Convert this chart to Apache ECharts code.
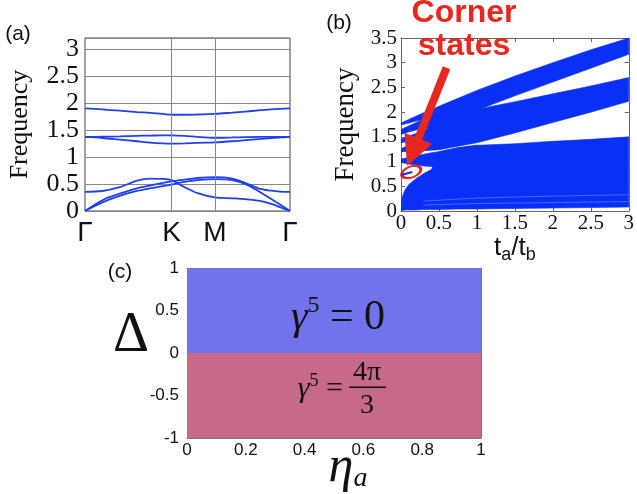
<!DOCTYPE html>
<html><head><meta charset="utf-8">
<script src="https://cdn.jsdelivr.net/npm/echarts@6/dist/echarts.min.js"></script>
<style>html,body{margin:0;padding:0;background:#fff}#c{width:637px;height:494px}</style>
</head><body><div id="c"></div>
<script>
// ---------- Panel (a): bands along Γ-K-M-Γ (path coordinate, |ΓK| = 1) ----------
const pathTicks = [0, 1, 1.5, 2.366];
const pathLabels = ['Γ', 'K', 'M', 'Γ'];
const kPath = [0, 0.2, 0.4, 0.6, 0.75, 0.9, 1, 1.15, 1.3, 1.5, 1.7, 1.85, 2.0, 2.15, 2.25, 2.366];
const band1 = [0, 0.16, 0.28, 0.37, 0.42, 0.46, 0.49, 0.54, 0.57, 0.59, 0.57, 0.50, 0.37, 0.22, 0.12, 0];
const band2 = [0, 0.20, 0.32, 0.42, 0.47, 0.52, 0.55, 0.58, 0.61, 0.625, 0.60, 0.52, 0.42, 0.375, 0.36, 0.355];
const band3 = [0.355, 0.37, 0.44, 0.56, 0.60, 0.595, 0.57, 0.44, 0.33, 0.25, 0.235, 0.22, 0.19, 0.13, 0.07, 0];
const band4 = [1.37, 1.35, 1.32, 1.29, 1.265, 1.25, 1.245, 1.25, 1.26, 1.27, 1.29, 1.31, 1.33, 1.35, 1.36, 1.37];
const band5 = [1.37, 1.375, 1.38, 1.39, 1.395, 1.40, 1.40, 1.39, 1.37, 1.355, 1.36, 1.365, 1.37, 1.37, 1.37, 1.37];
const band6 = [1.90, 1.88, 1.855, 1.83, 1.815, 1.795, 1.78, 1.78, 1.785, 1.795, 1.82, 1.84, 1.86, 1.88, 1.89, 1.90];
const bandsA = [band1, band2, band3, band4, band5, band6];

// ---------- Panel (b): spectrum vs t_a/t_b (filled bands: lower / upper edges) ----------
const tX = [0, 0.1, 0.2, 0.3, 0.4, 0.5, 0.75, 1, 1.5, 2, 2.5, 3];
const topHi = [1.78, 1.85, 1.92, 1.99, 2.05, 2.12, 2.28, 2.44, 2.73, 3.00, 3.26, 3.5];
const topLo = [1.74, 1.78, 1.82, 1.85, 1.87, 1.90, 1.97, 2.04, 2.33, 2.61, 2.89, 3.17];
const midHi = [1.26, 1.33, 1.40, 1.48, 1.93, 1.97, 2.02, 2.06, 2.21, 2.37, 2.53, 2.70];
const midLo = [1.20, 1.20, 1.21, 1.22, 1.23, 1.24, 1.31, 1.38, 1.58, 1.79, 2.00, 2.22];
const lowX  = [0, 0.02, 0.05, 0.1, 0.2, 0.3, 0.4, 0.5, 0.75, 1, 1.5, 2, 2.5, 3];
const lowHi = [0.15, 0.30, 0.42, 0.53, 0.66, 0.76, 0.84, 1.20, 1.28, 1.33, 1.36, 1.41, 1.45, 1.50];
const lowLo = [0.01, 0.01, 0.02, 0.02, 0.02, 0.03, 0.03, 0.03, 0.04, 0.04, 0.05, 0.06, 0.07, 0.08];
const shelfX  = [0, 0.1, 0.2, 0.3, 0.4, 0.5, 0.75, 1];
const shelfLo = [0.98, 0.95, 0.93, 0.91, 0.90, 0.88, 0.95, 1.00];
const shelfHi = [1.05, 1.08, 1.12, 1.15, 1.18, 1.20, 1.28, 1.33];
const edgeX   = [0, 0.1, 0.2, 0.3, 0.4, 0.5];
const edge1Lo = [1.38, 1.41, 1.44, 1.47, 1.50, 1.52];
const edge1Hi = [1.45, 1.51, 1.57, 1.63, 1.69, 1.74];
const edge2Lo = [1.55, 1.60, 1.64, 1.67, 1.70, 1.72];
const edge2Hi = [1.65, 1.72, 1.79, 1.86, 1.93, 1.97];
const streakX = [0.3, 1, 2, 3];
const streak1 = [0.12, 0.15, 0.17, 0.19];
const streak2 = [0.20, 0.26, 0.30, 0.33];
const cornerX = [0, 0.05, 0.1, 0.15];
const cornerY = [0.73, 0.75, 0.77, 0.79];
const arrowFrom = [0.60, 2.90];
const arrowTo = [0.155, 1.19];
const ringAt = [0.135, 0.79];

// ---------- Panel (c): phase diagram ----------
const etaRange = [0, 1];
const phaseLo = [0, -1];
const phaseHi = [1, 0];
const phaseColor = ['#7073e9', '#c66a87'];

const SERIF = '"Liberation Serif","Times New Roman",serif';
const SANS = '"Liberation Sans",Arial,sans-serif';
const LINE_BLUE = '#1f3ff0';
const FILL_BLUE = '#0a2ff5';
const RED = '#e8281e';
const GRAYLINE = '#666';

const bandsB = [
  {x: lowX, lo: lowLo, hi: lowHi},
  {x: shelfX, lo: shelfLo, hi: shelfHi},
  {x: tX, lo: midLo, hi: midHi},
  {x: edgeX, lo: edge1Lo, hi: edge1Hi},
  {x: edgeX, lo: edge2Lo, hi: edge2Hi},
  {x: tX, lo: topLo, hi: topHi}
];

const chart = echarts.init(document.getElementById('c'));

function halfStep(v){ return Math.abs(v*2 - Math.round(v*2)) < 1e-6; }
function mirrorAxis(gridIndex, pos, min, max, interval, color, len){
  return {gridIndex, position: pos, min, max, interval, type:'value',
    axisLine:{show:true, onZero:false, lineStyle:{color, width:1}},
    axisTick:{show:true, inside:true, length:len, lineStyle:{color}},
    axisLabel:{show:false}, splitLine:{show:false}};
}

const option = {
  animation: false,
  backgroundColor: '#fff',
  grid: [
    {left: 85, top: 38, width: 205, height: 173, show: true, borderColor: '#444', borderWidth: 1, backgroundColor: 'transparent'},
    {left: 401, top: 38, width: 228, height: 173, show: false},
    {left: 187, top: 268, width: 294, height: 170, show: false}
  ],
  xAxis: [
    {gridIndex:0, type:'value', min:0, max:2.366,
      axisLine:{show:false, onZero:false}, axisTick:{show:false}, splitLine:{show:false},
      axisLabel:{customValues: pathTicks, margin:8, color:'#111', fontSize:28, fontFamily:SANS,
        formatter: (v) => { let best = 0; pathTicks.forEach((t,i)=>{ if (Math.abs(t-v) < Math.abs(pathTicks[best]-v)) best = i; }); return pathLabels[best]; }}},
    {gridIndex:1, type:'value', min:0, max:3, interval:0.5,
      axisLine:{show:true, onZero:false, lineStyle:{color:GRAYLINE}},
      axisTick:{show:true, inside:true, length:4, lineStyle:{color:GRAYLINE}},
      splitLine:{show:false},
      axisLabel:{margin:2, color:'#111', fontSize:21, fontFamily:SERIF},
      name:'t{s|a}/t{s|b}', nameLocation:'middle', nameGap:10,
      nameTextStyle:{fontFamily:SANS, fontSize:26, color:'#111', rich:{s:{fontFamily:SANS, fontSize:18, padding:[14,0,0,0]}}}},
    mirrorAxis(1, 'top', 0, 3, 0.5, GRAYLINE, 4),
    {gridIndex:2, type:'value', min:0, max:1, interval:0.2,
      axisLine:{show:true, onZero:false, lineStyle:{color:'#777'}},
      axisTick:{show:true, inside:true, length:5, lineStyle:{color:'#777'}},
      splitLine:{show:false},
      axisLabel:{margin:4, color:'#111', fontSize:17, fontFamily:SANS}},
    mirrorAxis(2, 'top', 0, 1, 0.2, '#777', 5)
  ],
  yAxis: [
    {gridIndex:0, type:'value', min:0, max:3.2, interval:0.5,
      axisLine:{show:false, onZero:false}, axisTick:{show:false},
      splitLine:{show:true, lineStyle:{color:'#888', width:1}},
      axisLabel:{margin:6, color:'#111', fontSize:26, fontFamily:SERIF, formatter:(v)=> halfStep(v) ? String(v) : ''},
      name:'Frequency', nameLocation:'middle', nameGap:52,
      nameTextStyle:{fontFamily:SERIF, fontSize:26, color:'#111'}},
    {gridIndex:1, type:'value', min:0, max:3.5, interval:0.5,
      axisLine:{show:true, onZero:false, lineStyle:{color:GRAYLINE}},
      axisTick:{show:true, inside:true, length:4, lineStyle:{color:GRAYLINE}},
      splitLine:{show:false},
      axisLabel:{margin:4, color:'#111', fontSize:21, fontFamily:SERIF},
      name:'Frequency', nameLocation:'middle', nameGap:42,
      nameTextStyle:{fontFamily:SERIF, fontSize:27, color:'#111'}},
    mirrorAxis(1, 'right', 0, 3.5, 0.5, GRAYLINE, 4),
    {gridIndex:2, type:'value', min:-1, max:1, interval:0.5,
      axisLine:{show:true, onZero:false, lineStyle:{color:'#777'}},
      axisTick:{show:true, inside:true, length:5, lineStyle:{color:'#777'}},
      splitLine:{show:false},
      axisLabel:{margin:8, color:'#111', fontSize:17, fontFamily:SANS}},
    mirrorAxis(2, 'right', -1, 1, 0.5, '#777', 5)
  ],
  series: []
};

// (a) band lines
bandsA.forEach((b, bi) => {
  const s = {type:'line', xAxisIndex:0, yAxisIndex:0, showSymbol:false, smooth:0.3, silent:true,
    lineStyle:{color:LINE_BLUE, width:1.8}, data: kPath.map((k,i)=>[k, b[i]])};
  if (bi === 0) {
    s.markLine = {silent:true, symbol:'none', label:{show:false},
      lineStyle:{color:'#888', width:1, type:'solid'},
      data: pathTicks.slice(1, 3).map(t => ({xAxis: t}))};
  }
  option.series.push(s);
});

// (b) filled bands
option.series.push({
  type:'custom', xAxisIndex:1, yAxisIndex:1, silent:true, clip:true,
  data: bandsB.map((b,i)=>[b.x[0], b.lo[0], i]),
  renderItem: (params, api) => {
    const b = bandsB[params.dataIndex];
    const up = b.x.map((x,i)=>api.coord([x, b.hi[i]]));
    const dn = b.x.map((x,i)=>api.coord([x, b.lo[i]])).reverse();
    return {type:'polygon', shape:{points: up.concat(dn)}, style:{fill:FILL_BLUE, stroke:FILL_BLUE, lineWidth:0.6}};
  }
});
// faint streaks inside the lowest band
[streak1, streak2].forEach(st => option.series.push({
  type:'line', xAxisIndex:1, yAxisIndex:1, showSymbol:false, silent:true, smooth:0.3, z:3,
  lineStyle:{color:'#4d66ff', width:1}, data: streakX.map((x,i)=>[x, st[i]])
}));
// corner states + annotation arrow / ring
option.series.push({
  type:'line', xAxisIndex:1, yAxisIndex:1, showSymbol:false, silent:true, z:5,
  lineStyle:{color:FILL_BLUE, width:2}, data: cornerX.map((x,i)=>[x, cornerY[i]]),
  markLine:{silent:true, symbol:['none','triangle'], symbolSize:30, label:{show:false},
    lineStyle:{color:RED, width:8, type:'solid', curveness:-0.12, opacity:1},
    itemStyle:{color:RED},
    data:[[{coord:arrowFrom}, {coord:arrowTo}]]},
  markPoint:{silent:true, symbol:'circle', symbolSize:[20,11], symbolRotate:20, label:{show:false},
    itemStyle:{color:'rgba(0,0,0,0)', borderColor:RED, borderWidth:2.5},
    data:[{coord: ringAt}]}
});

// (c) phase regions
option.series.push({
  type:'custom', xAxisIndex:3, yAxisIndex:3, silent:true, z:1,
  data: phaseLo.map((lo,i)=>[etaRange[0], lo, i]),
  renderItem: (params, api) => {
    const i = params.dataIndex;
    const p1 = api.coord([etaRange[0], phaseHi[i]]);
    const p2 = api.coord([etaRange[1], phaseLo[i]]);
    return {type:'rect', shape:{x:p1[0], y:p1[1], width:p2[0]-p1[0], height:p2[1]-p1[1]}, style:{fill: phaseColor[i]}};
  }
});

function txt(x, y, style){ return {type:'text', x, y, z:100, style: Object.assign({fill:'#111', align:'center', verticalAlign:'middle', textAlign:'center', textVerticalAlign:'middle'}, style)}; }
option.graphic = {elements: [
  txt(18, 34, {text:'(a)', font:'21px '+SANS}),
  txt(339, 23, {text:'(b)', font:'21px '+SANS}),
  txt(120, 272, {text:'(c)', font:'21px '+SANS}),
  txt(464, 30, {text:'Corner\nstates', font:'bold 32px '+SANS, fill:RED, lineHeight:33}),
  txt(131, 336, {text:'Δ', font:'56px '+SERIF}),
  txt(348, 468, {text:'{e|η}{s|a}', rich:{e:{font:'italic 50px '+SERIF, fill:'#111'}, s:{font:'italic 28px '+SERIF, fill:'#111', padding:[22,0,0,0]}}}),
  txt(338, 318, {text:'{g|γ}{p|5}{t| = 0}', rich:{g:{font:'italic 42px '+SERIF, fill:'#111'}, p:{font:'24px '+SERIF, fill:'#111', padding:[0,0,24,0]}, t:{font:'42px '+SERIF, fill:'#111'}}}),
  txt(343, 389, {text:'{g|γ}{p|5}{t| =}', align:'right', textAlign:'right', rich:{g:{font:'italic 30px '+SERIF, fill:'#111'}, p:{font:'18px '+SERIF, fill:'#111', padding:[0,0,16,0]}, t:{font:'30px '+SERIF, fill:'#111'}}}),
  txt(367, 373, {text:'4π', font:'28px '+SERIF}),
  {type:'rect', z:100, shape:{x:349, y:386.5, width:37, height:1.6}, style:{fill:'#111'}},
  txt(367, 406, {text:'3', font:'28px '+SERIF})
]};

chart.setOption(option);
</script>
</body></html>
